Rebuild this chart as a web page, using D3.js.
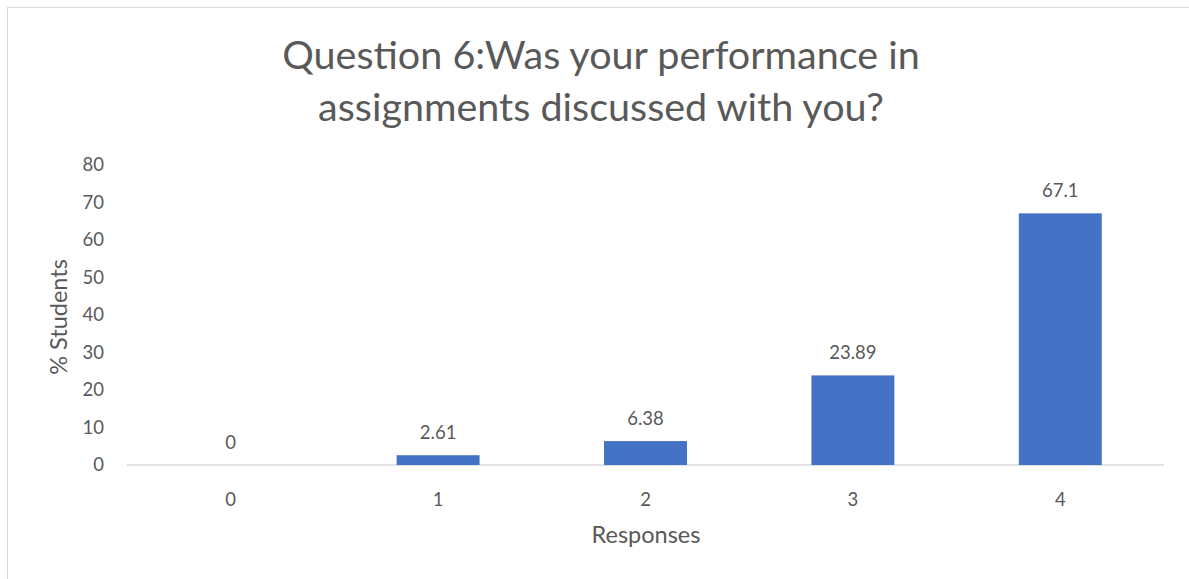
<!DOCTYPE html>
<html lang="en">
<head>
    <meta charset="UTF-8">
    <title>Question 6</title>
    <style>
        body {
            margin: 0;
            background: #fff;
            font-family: Lato, "Open Sans", sans-serif;
        }
        svg text {
            fill: #595959;
        }
    </style>
</head>
<body>
    <svg id="chart" width="1189" height="579"></svg>
    <script src="https://cdnjs.cloudflare.com/ajax/libs/d3/7.8.5/d3.min.js"></script>
    <script>
        const categories = ['0', '1', '2', '3', '4'];
        const values = [0, 2.61, 6.38, 23.89, 67.1];
        const valueLabels = ['0', '2.61', '6.38', '23.89', '67.1'];
        const yTicks = [0, 10, 20, 30, 40, 50, 60, 70, 80];
        const titleLines = ['Question 6:Was your performance in', 'assignments discussed with you?'];

        const svg = d3.select('#chart');
        const margin = { left: 127, right: 25, top: 165, bottom: 114 };
        const width = 1189, height = 579;

        // chart frame
        svg.append('rect')
            .attr('x', 7.5).attr('y', 7.5)
            .attr('width', 1200).attr('height', 600)
            .attr('fill', 'none')
            .attr('stroke', '#d9d9d9');

        const x = d3.scaleBand()
            .domain(categories)
            .range([margin.left, width - margin.right])
            .paddingInner(0.6)
            .paddingOuter(0.3);

        const y = d3.scaleLinear()
            .domain([0, 80])
            .range([height - margin.bottom, margin.top]);

        // title
        svg.append('g').selectAll('text')
            .data(titleLines)
            .enter()
            .append('text')
            .attr('x', 601)
            .attr('y', (d, i) => 69 + i * 52)
            .attr('text-anchor', 'middle')
            .style('font-size', '39.5px')
            .text(d => d);

        // y axis
        const yAxis = svg.append('g')
            .attr('transform', `translate(${margin.left - 23},0)`)
            .call(d3.axisLeft(y).tickValues(yTicks).tickSize(0).tickPadding(0));
        yAxis.select('.domain').remove();
        yAxis.selectAll('text')
            .style('font-size', '18.5px')
            .style('font-family', 'Lato, sans-serif')
            .attr('fill', '#595959');

        // x axis
        const xAxis = svg.append('g')
            .attr('transform', `translate(0,${y(0)})`)
            .call(d3.axisBottom(x).tickSize(0).tickPadding(28));
        xAxis.select('.domain').attr('stroke', '#d9d9d9').attr('stroke-width', 1.5)
            .attr('d', `M${margin.left},0H${width - margin.right}`);
        xAxis.selectAll('text')
            .style('font-size', '18.5px')
            .style('font-family', 'Lato, sans-serif')
            .attr('fill', '#595959');

        // bars
        svg.append('g').selectAll('rect')
            .data(values)
            .enter()
            .append('rect')
            .attr('x', (d, i) => x(categories[i]))
            .attr('y', d => y(d))
            .attr('width', x.bandwidth())
            .attr('height', d => y(0) - y(d))
            .attr('fill', '#4472c4');

        // data labels
        svg.append('g').selectAll('text')
            .data(values)
            .enter()
            .append('text')
            .attr('x', (d, i) => x(categories[i]) + x.bandwidth() / 2)
            .attr('y', d => y(d) - 16)
            .attr('text-anchor', 'middle')
            .style('font-size', '18.5px')
            .text((d, i) => valueLabels[i]);

        // axis titles
        svg.append('text')
            .attr('x', 646)
            .attr('y', 543)
            .attr('text-anchor', 'middle')
            .style('font-size', '23.5px')
            .text('Responses');

        svg.append('text')
            .attr('transform', 'translate(67,317) rotate(-90)')
            .attr('text-anchor', 'middle')
            .style('font-size', '23.5px')
            .text('% Students');
    </script>
</body>
</html>
